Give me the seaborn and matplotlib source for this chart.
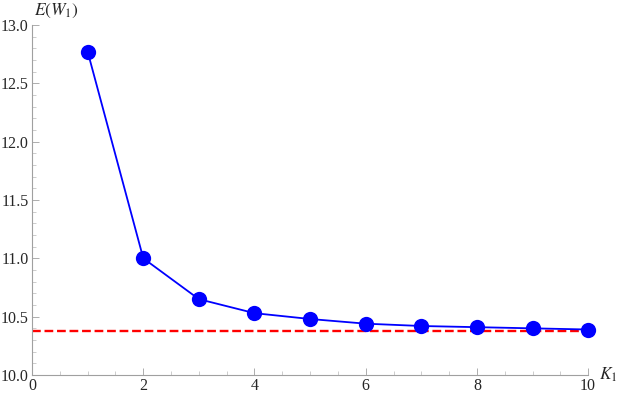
import matplotlib
matplotlib.use("Agg")
import matplotlib.pyplot as plt
from matplotlib.ticker import MultipleLocator, FormatStrFormatter
import pandas as pd
import seaborn as sns

# values
k_values = [1, 2, 3, 4, 5, 6, 7, 8, 9, 10]
expected_w = [12.77, 11.00, 10.65, 10.53, 10.48, 10.44, 10.42, 10.41, 10.40, 10.39]
limit_value = 10.377
limit_x = [0, 10]

sns.set_style("white")
plt.rcParams['font.family'] = ['Liberation Serif', 'DejaVu Serif']
plt.rcParams['mathtext.fontset'] = 'stix'

df = pd.DataFrame({'K': k_values, 'EW': expected_w})

fig = plt.figure(figsize=(6.23, 3.96), dpi=100)
ax = fig.add_axes([0.0515, 0.053, 0.8925, 0.884])

sns.lineplot(x=limit_x, y=[limit_value] * 2, ax=ax, color='red',
             linewidth=1.7, dashes=(6, 3.5), linestyle='--')
sns.lineplot(data=df, x='K', y='EW', ax=ax, color='blue', linewidth=1.3,
             marker='o', markersize=11, markeredgewidth=0, zorder=3,
             clip_on=False)

ax.set_xlim(0, 10)
ax.set_ylim(10.0, 13.0)
ax.xaxis.set_major_locator(MultipleLocator(2))
ax.xaxis.set_minor_locator(MultipleLocator(0.5))
ax.yaxis.set_major_locator(MultipleLocator(0.5))
ax.yaxis.set_minor_locator(MultipleLocator(0.1))
ax.yaxis.set_major_formatter(FormatStrFormatter('%.1f'))

for side in ['top', 'right']:
    ax.spines[side].set_visible(False)
for side in ['left', 'bottom']:
    ax.spines[side].set_color('#a0a0a0')
    ax.spines[side].set_linewidth(0.8)

ax.tick_params(which='major', direction='in', length=5, width=0.6,
               color='#a0a0a0', labelsize=11.5, left=True, bottom=True)
ax.tick_params(axis='x', which='major', pad=2)
ax.tick_params(axis='y', which='major', pad=2.5)
ax.tick_params(which='minor', direction='in', length=3, width=0.5,
               color='#b8b8b8', left=True, bottom=True)

ax.set_xlabel('')
ax.set_ylabel('')
ax.text(0.003, 1.015, '$E(W_1)$', transform=ax.transAxes, fontsize=12.5,
        ha='left', va='bottom')
ax.text(1.02, 0.0, '$K_1$', transform=ax.transAxes, fontsize=12.5,
        ha='left', va='center')

fig.savefig('out.png', dpi=100)
